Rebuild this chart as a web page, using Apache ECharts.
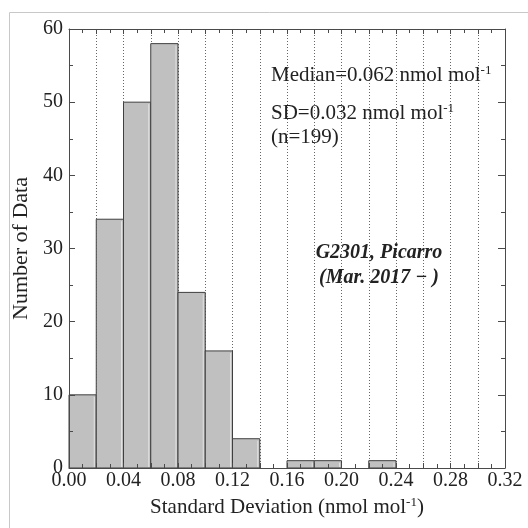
<!DOCTYPE html>
<html>
<head>
<meta charset="utf-8">
<script src="https://cdn.jsdelivr.net/npm/echarts@6/dist/echarts.min.js"></script>
<style>html,body{margin:0;padding:0;background:#fff;}#c{width:528px;height:528px;}</style>
</head>
<body>
<div id="c"></div>
<script>
const binStarts = [0.00, 0.02, 0.04, 0.06, 0.08, 0.10, 0.12, 0.14, 0.16, 0.18, 0.20, 0.22, 0.24, 0.26, 0.28, 0.30];
const binWidth = 0.02;
const counts = [10, 34, 50, 58, 24, 16, 4, 0, 1, 1, 0, 1, 0, 0, 0, 0];
const xTickLabelStep = 0.04;
const statsLines = ['Median=0.062 nmol mol', 'SD=0.032 nmol mol', '(n=199)'];
const instrumentLines = ['G2301, Picarro', '(Mar. 2017 \u2212 )'];

const FONT = '"Liberation Serif", "Times New Roman", serif';
const chart = echarts.init(document.getElementById('c'));
const axisLineStyle = { color: '#4a4a4a', width: 1 };
const supRich = { sup: { fontSize: 13, verticalAlign: 'top', padding: [0, 0, 10, 0], fontFamily: FONT, color: '#222' } };

const barData = binStarts.map((s, i) => [s, s + binWidth, counts[i]]).filter(d => d[2] > 0);

chart.setOption({
  animation: false,
  grid: { left: 69, right: 23, top: 29, bottom: 60 },
  xAxis: [{
    type: 'value', min: 0, max: 0.32, interval: 0.02, position: 'bottom', z: 10,
    axisLine: { onZero: false, lineStyle: axisLineStyle },
    axisTick: { inside: true, length: 5, lineStyle: axisLineStyle },
    minorTick: { show: true, splitNumber: 2, length: 4, lineStyle: axisLineStyle },
    axisLabel: {
      margin: 3, fontFamily: FONT, fontSize: 20, color: '#222',
      formatter: v => (Math.abs(Math.round(v / xTickLabelStep) * xTickLabelStep - v) < 1e-6 ? v.toFixed(2) : ''),
      showMinLabel: true, showMaxLabel: true
    },
    splitLine: { show: false },
    name: 'Standard Deviation (nmol mol{sup|-1})', nameLocation: 'middle', nameGap: 27,
    nameTextStyle: { fontFamily: FONT, fontSize: 21, color: '#222', rich: supRich }
  }, {
    type: 'value', min: 0, max: 0.32, interval: 0.02, position: 'top', z: 0,
    axisLine: { show: true, onZero: false, lineStyle: axisLineStyle },
    axisTick: { show: true, inside: true, length: 5, lineStyle: axisLineStyle },
    minorTick: { show: true, splitNumber: 2, length: 4, lineStyle: axisLineStyle },
    axisLabel: { show: false },
    splitLine: { show: true, lineStyle: { color: '#666', type: [1, 2], width: 1 } }
  }],
  yAxis: [{
    type: 'value', min: 0, max: 60, interval: 10, position: 'left', z: 10,
    axisLine: { show: true, onZero: false, lineStyle: axisLineStyle },
    axisTick: { show: true, inside: true, length: 6, lineStyle: axisLineStyle },
    minorTick: { show: true, splitNumber: 2, length: 4, lineStyle: axisLineStyle },
    axisLabel: { margin: 6, fontFamily: FONT, fontSize: 20, color: '#222' },
    splitLine: { show: false },
    name: 'Number of Data', nameLocation: 'middle', nameGap: 35,
    nameTextStyle: { fontFamily: FONT, fontSize: 22, color: '#222' }
  }, {
    type: 'value', min: 0, max: 60, interval: 10, position: 'right', z: 10,
    axisLine: { show: true, onZero: false, lineStyle: axisLineStyle },
    axisTick: { show: true, inside: true, length: 7, lineStyle: axisLineStyle },
    minorTick: { show: true, splitNumber: 2, length: 4, lineStyle: axisLineStyle },
    axisLabel: { show: false }, splitLine: { show: false }
  }],
  series: [{
    type: 'custom', xAxisIndex: 0, yAxisIndex: 0,
    data: barData,
    encode: { x: [0, 1], y: 2 },
    renderItem: function (params, api) {
      const p0 = api.coord([api.value(0), 0]);
      const p1 = api.coord([api.value(1), api.value(2)]);
      const w = p1[0] - p0[0], h = p0[1] - p1[1];
      return {
        type: 'group',
        children: [{
          type: 'rect',
          shape: { x: p0[0], y: p1[1], width: w, height: h },
          style: { fill: '#c0c0c0', stroke: '#3f3f3f', lineWidth: 1 }
        }, {
          type: 'line',
          shape: { x1: p1[0] - 2, y1: p1[1] + 2, x2: p1[0] - 2, y2: p0[1] - 1 },
          style: { stroke: '#e2e2e2', lineWidth: 1 }
        }]
      };
    },
    z: 3
  }],
  graphic: [
    { type: 'rect', left: 7, top: 10, shape: { width: 600, height: 600 }, style: { fill: 'none', stroke: '#c8c8c8', lineWidth: 1 }, silent: true, z: -10 },
    { type: 'text', left: 271, top: 64, z: 10, style: { text: statsLines[0] + '{sup|-1}', font: '21px ' + FONT, fill: '#222', rich: supRich } },
    { type: 'text', left: 271, top: 102, z: 10, style: { text: statsLines[1] + '{sup|-1}', font: '21px ' + FONT, fill: '#222', rich: supRich } },
    { type: 'text', left: 271, top: 127, z: 10, style: { text: statsLines[2], font: '21px ' + FONT, fill: '#222' } },
    { type: 'text', x: 379, y: 253, z: 10, style: { text: instrumentLines[0], font: 'italic bold 20px ' + FONT, fill: '#222', align: 'center', verticalAlign: 'middle' } },
    { type: 'text', x: 379, y: 278, z: 10, style: { text: instrumentLines[1], font: 'italic bold 20px ' + FONT, fill: '#222', align: 'center', verticalAlign: 'middle' } }
  ]
});
</script>
</body>
</html>
